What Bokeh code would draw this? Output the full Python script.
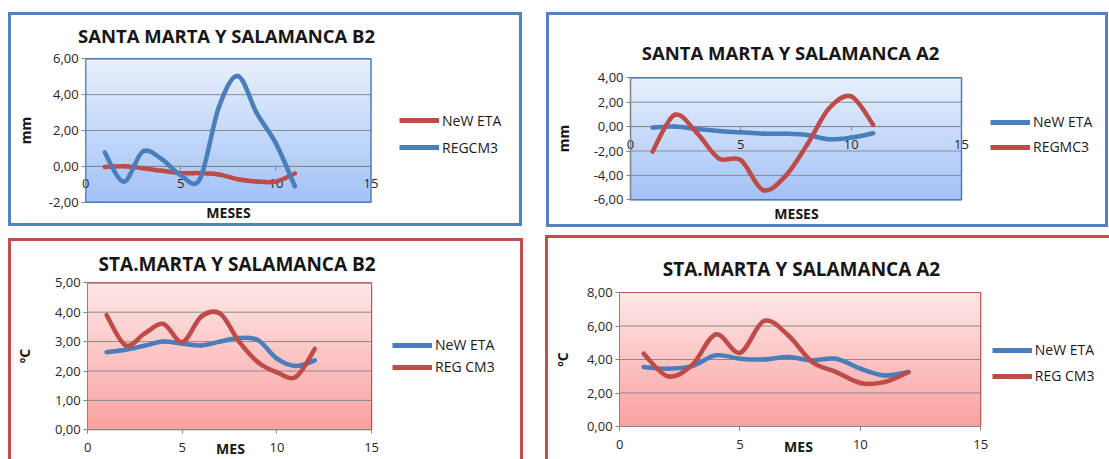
import numpy as np
from bokeh.plotting import figure
from bokeh.layouts import row, column
from bokeh.models import (Range1d, FixedTicker, CustomJSTickFormatter, Legend,
                          LegendItem, Label)
from bokeh.embed import file_html
from bokeh.resources import INLINE

# ---------------- data ----------------
meses_b2_mm = [1, 2, 3, 4, 5, 6, 7, 8, 9, 10, 11]
new_eta_b2_mm = [-0.03, 0.00, -0.10, -0.25, -0.38, -0.38, -0.45, -0.72, -0.85, -0.85, -0.40]
regcm3_b2_mm = [0.78, -0.85, 0.82, 0.40, -0.50, -0.72, 3.30, 5.04, 2.95, 1.28, -1.12]

meses_a2_mm = [1, 2, 3, 4, 5, 6, 7, 8, 9, 10, 11]
new_eta_a2_mm = [-0.08, 0.00, -0.20, -0.36, -0.47, -0.58, -0.58, -0.68, -1.04, -0.90, -0.55]
regmc3_a2_mm = [-2.05, 0.96, -0.50, -2.60, -2.75, -5.20, -4.10, -1.50, 1.50, 2.47, 0.14]

meses_b2_c = [1, 2, 3, 4, 5, 6, 7, 8, 9, 10, 11, 12]
new_eta_b2_c = [2.64, 2.72, 2.86, 3.00, 2.93, 2.87, 3.00, 3.12, 3.05, 2.42, 2.17, 2.36]
regcm3_b2_c = [3.90, 2.87, 3.27, 3.60, 2.98, 3.85, 3.95, 3.00, 2.30, 1.95, 1.80, 2.75]

meses_a2_c = [1, 2, 3, 4, 5, 6, 7, 8, 9, 10, 11, 12]
new_eta_a2_c = [3.55, 3.45, 3.60, 4.25, 4.05, 4.00, 4.15, 3.95, 4.05, 3.45, 3.05, 3.25]
regcm3_a2_c = [4.35, 3.00, 3.65, 5.50, 4.40, 6.30, 5.45, 3.85, 3.25, 2.60, 2.65, 3.25]

x_ticks = [0, 5, 10, 15]
y_ticks_b2_mm = [-2, 0, 2, 4, 6]
y_ticks_a2_mm = [-6, -4, -2, 0, 2, 4]
y_ticks_b2_c = [0, 1, 2, 3, 4, 5]
y_ticks_a2_c = [0, 2, 4, 6, 8]

BLUE = "#4a7ebb"
RED = "#be4b48"
FONT = "Open Sans"
TXT = "#161616"


def smooth_bezier(xs, ys, k=1.0 / 6.0):
    """Control points of an Excel-like smoothed line through the data."""
    x = np.asarray(xs, float)
    y = np.asarray(ys, float)
    n = len(x)
    xp = np.concatenate([[x[0]], x, [x[-1]]])
    yp = np.concatenate([[y[0]], y, [y[-1]]])
    return dict(x0=x[:-1], y0=y[:-1], x1=x[1:], y1=y[1:],
                cx0=x[:-1] + (xp[2:n + 1] - xp[0:n - 1]) * k,
                cy0=y[:-1] + (yp[2:n + 1] - yp[0:n - 1]) * k,
                cx1=x[1:] - (xp[3:n + 2] - xp[1:n]) * k,
                cy1=y[1:] - (yp[3:n + 2] - yp[1:n]) * k)


def gradient(top, bottom, n=240):
    t = np.linspace(0.0, 1.0, n)[:, None]
    rgb = np.array(bottom, float) * (1 - t) + np.array(top, float) * t
    img = np.empty((n, 1), dtype=np.uint32)
    view = img.view(dtype=np.uint8).reshape((n, 1, 4))
    view[:, 0, :3] = rgb
    view[:, 0, 3] = 255
    return img


def panel(title, xs, s1, s2, names, colors, yticks, ylabel, xlabel, grad,
          outline, size, area, title_xy, xlabel_xy, ylabel_standoff,
          legend_x, legend_rows, css, title_size, full_outline):
    W, H = size
    aL, aR, aT, aB = area          # plot-area box inside the canvas (px)
    xmin, xmax = x_ticks[0], x_ticks[-1]
    ymin, ymax = yticks[0], yticks[-1]
    sx = (aR - aL) / (xmax - xmin)
    sy = (aB - aT) / (ymax - ymin)
    xs0 = xmin - aL / sx
    xs1 = xmax + (W - aR) / sx
    ys1 = ymax + aT / sy
    ys0 = ymin - (H - aB) / sy

    def dx(px):
        return xs0 + px / sx

    def dy(py):
        return ys1 - py / sy

    p = figure(width=W, height=H, output_backend="svg", toolbar_location=None,
               x_range=Range1d(xs0, xs1), y_range=Range1d(ys0, ys1),
               min_border=0, title=None)
    p.title = None
    p.outline_line_color = None
    p.background_fill_alpha = 0
    p.border_fill_alpha = 0
    p.styles = css

    # gradient plot area + border
    p.image_rgba(image=[gradient(*grad)], x=xmin, y=ymin, dw=xmax - xmin,
                 dh=ymax - ymin, level="image")
    p.segment(x0=xmin, x1=xmax, y0=yticks, y1=yticks, line_color="#8a8a8a",
              line_width=1, level="underlay")
    if full_outline:
        p.quad(left=xmin, right=xmax, bottom=ymin, top=ymax, fill_alpha=0,
               line_color=outline, line_width=1.5, level="underlay")
    else:
        p.segment(x0=[xmin, xmax], y0=[ymax, ymin], x1=[xmax, xmax],
                  y1=[ymax, ymax], line_color=outline, line_width=1.2,
                  level="underlay")

    # axes crossing at zero
    p.xgrid.visible = False
    p.ygrid.visible = False
    p.xaxis.fixed_location = 0
    p.yaxis.fixed_location = 0
    p.xaxis.bounds = (xmin, xmax)
    p.yaxis.bounds = (ymin, ymax)
    p.xaxis.ticker = FixedTicker(ticks=x_ticks)
    p.yaxis.ticker = FixedTicker(ticks=yticks)
    p.yaxis.formatter = CustomJSTickFormatter(
        code="return tick.toFixed(2).replace('.', ',');")
    for ax in (p.xaxis[0], p.yaxis[0]):
        ax.level = "underlay"
        ax.axis_line_color = "#868686"
        ax.major_tick_line_color = "#868686"
        ax.minor_tick_line_color = None
        ax.major_tick_in = 0
        ax.major_tick_out = 4
        ax.major_label_text_font = FONT
        ax.major_label_text_font_size = "13px"
        ax.major_label_text_color = "#262626"
    p.xaxis.major_label_standoff = 9
    p.yaxis.major_label_standoff = 3
    p.yaxis.axis_label = ylabel
    p.yaxis.axis_label_text_font = FONT
    p.yaxis.axis_label_text_font_size = "14px"
    p.yaxis.axis_label_text_font_style = "bold"
    p.yaxis.axis_label_text_color = TXT
    p.yaxis.axis_label_standoff = ylabel_standoff

    # chart title and x-axis title
    p.add_layout(Label(x=dx(title_xy[0]), y=dy(title_xy[1]), text=title,
                       text_align="center", text_baseline="middle",
                       text_font=FONT, text_font_size=title_size,
                       text_font_style="bold", text_color=TXT))
    p.add_layout(Label(x=dx(xlabel_xy[0]), y=dy(xlabel_xy[1]), text=xlabel,
                       text_align="center", text_baseline="middle",
                       text_font=FONT, text_font_size="14px",
                       text_font_style="bold", text_color=TXT))

    # series (smoothed lines)
    for ser, col in ((s1, colors[0]), (s2, colors[1])):
        p.bezier(source=smooth_bezier(xs, ser), x0="x0", y0="y0", x1="x1",
                 y1="y1", cx0="cx0", cy0="cy0", cx1="cx1", cy1="cy1",
                 line_color=col, line_width=4.5, line_cap="round")

    # legend (hidden proxy lines carry the legend swatches)
    l1 = p.line(xs, s1, line_color=colors[0], line_width=5, visible=False)
    l2 = p.line(xs, s2, line_color=colors[1], line_width=5, visible=False)
    r1, r2 = legend_rows
    legend = Legend(items=[LegendItem(label=names[0], renderers=[l1]),
                           LegendItem(label=names[1], renderers=[l2])],
                    location=(legend_x, H - (r2 + 10)), orientation="vertical",
                    glyph_width=40, glyph_height=20, label_height=20,
                    label_width=20, spacing=int(round(r2 - r1 - 20)),
                    padding=0, margin=0, label_standoff=3,
                    border_line_color=None, background_fill_alpha=0,
                    inactive_fill_alpha=0, label_text_font=FONT,
                    label_text_font_size="14px", label_text_color="#1a1a1a")
    p.add_layout(legend)
    return p


blue_grad = ((233, 241, 253), (163, 194, 247))
red_grad = ((254, 232, 232), (249, 162, 161))

css_blue = {"background-color": "white",
            "box-shadow": "inset 0 0 0 3px #5282c0"}
css_red_l = {"background-color": "white",
             "box-shadow": "inset 3px 0 0 0 #c0504d, inset -3px 0 0 0 #c0504d, "
                           "inset 0 3px 0 0 #c0504d"}
css_red_r = {"background-color": "white",
             "box-shadow": "inset 3px 0 0 0 #c0504d, inset 0 3px 0 0 #c0504d"}

p1 = panel("SANTA MARTA Y SALAMANCA B2", meses_b2_mm, new_eta_b2_mm,
           regcm3_b2_mm, ["NeW ETA", "REGCM3"], [RED, BLUE], y_ticks_b2_mm,
           "mm", "MESES", blue_grad, BLUE, (514, 214),
           (77.2, 362.5, 46.3, 189.7), (218, 23), (220, 200), 11,
           391, (108, 135), css_blue, "18.5px", True)
p2 = panel("SANTA MARTA Y SALAMANCA A2", meses_a2_mm, new_eta_a2_mm,
           regmc3_a2_mm, ["NeW ETA", "REGMC3"], [BLUE, RED], y_ticks_a2_mm,
           "mm", "MESES", blue_grad, BLUE, (562, 215),
           (84, 415, 65.3, 187.3), (244, 39.7), (250, 201), 18,
           444, (109.7, 134.7), css_blue, "18.5px", True)
p3 = panel("STA.MARTA Y SALAMANCA B2", meses_b2_c, new_eta_b2_c,
           regcm3_b2_c, ["NeW ETA", "REG CM3"], [BLUE, RED], y_ticks_b2_c,
           "ºC", "MES", red_grad, "#c0504d", (515, 221),
           (79.2, 363.1, 44.3, 191.3), (228.6, 25.3), (222, 210), 18,
           384, (107, 128.7), css_red_l, "19px", False)
p4 = panel("STA.MARTA Y SALAMANCA A2", meses_a2_c, new_eta_a2_c,
           regcm3_a2_c, ["NeW ETA", "REG CM3"], [BLUE, RED], y_ticks_a2_c,
           "ºC", "MES", red_grad, "#c0504d", (564, 224),
           (74.1, 435.2, 57, 191), (256, 33.5), (253, 211), 12,
           446.8, (115, 140.7), css_red_r, "19px", False)

p1.margin = (12, 0, 0, 8)
p2.margin = (12, 0, 0, 24)
p3.margin = (11, 0, 0, 8)
p4.margin = (8, 0, 0, 22)

root = column(row(p1, p2), row(p3, p4))

open("out.html", "w").write(file_html(root, INLINE))
